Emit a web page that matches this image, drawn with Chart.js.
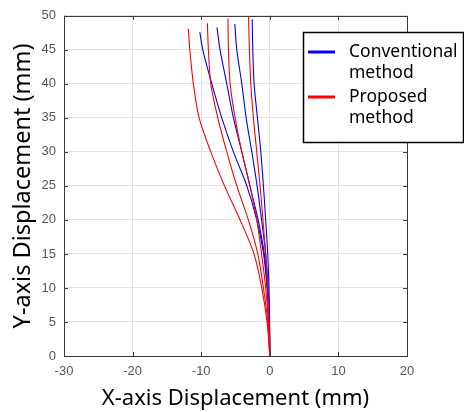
<!DOCTYPE html>
<html>
<head>
<meta charset="utf-8">
<script src="https://cdn.jsdelivr.net/npm/chart.js@4/dist/chart.umd.min.js"></script>
<style>
  html, body { margin: 0; padding: 0; background: #fff; }
</style>
</head>
<body>
<canvas id="grafico" width="464" height="412"></canvas>
<script>
// Níveis de Y (mm) onde cada curva foi lida; o último ponto de cada curva é o topo.
const yLevels = [0, 5, 10, 15, 20, 25, 30, 35, 40, 45];

// Deslocamento X (mm) em cada nível de Y — método convencional (azul)
const conv1X = [0, -0.1, -0.4, -0.9, -1.9, -3.35, -5.3, -7.0, -8.45, -9.77];
const conv2X = [0, -0.08, -0.35, -0.8, -1.7, -2.9, -4.08, -5.3, -6.27, -7.25];
const conv3X = [0, -0.05, -0.25, -0.6, -1.2, -1.85, -2.62, -3.45, -4.08, -4.81];
const conv4X = [0, -0.03, -0.12, -0.3, -0.6, -0.93, -1.31, -1.8, -2.29, -2.48];
const convTops = [[-10.2, 47.6], [-7.7, 48.3], [-5.1, 48.8], [-2.57, 49.5]];

// Método proposto (vermelho)
const prop1X = [0, -0.4, -1.17, -2.3, -4.33, -6.6, -8.6, -10.3, -11.14, -11.66];
const prop2X = [0, -0.3, -0.93, -1.75, -3.12, -4.81, -6.27, -7.58, -8.6, -8.95];
const prop3X = [0, -0.2, -0.6, -1.2, -1.9, -2.9, -4.08, -5.06, -5.78, -6.03];
const prop4X = [0, -0.1, -0.3, -0.6, -1.0, -1.42, -1.9, -2.39, -2.77, -2.97];
const propTops = [[-11.87, 48.1], [-9.1, 48.9], [-6.1, 49.6], [-3.1, 49.9]];

const xTicks = [-30, -20, -10, 0, 10, 20];
const yTicks = [0, 5, 10, 15, 20, 25, 30, 35, 40, 45, 50];

const legendLabels = [["Conventional", "method"], ["Proposed", "method"]];
const AZUL = "#0000ff";
const VERMELHO = "#ff0000";
const EIXO = "#3a3a3a";

function pontos(xs, topo) {
  const pts = xs.map((x, i) => ({ x: x, y: yLevels[i] }));
  pts.push({ x: topo[0], y: topo[1] });
  return pts;
}

function serie(xs, topo, cor) {
  return {
    data: pontos(xs, topo),
    borderColor: cor,
    borderWidth: 1.1,
    showLine: true,
    pointRadius: 0,
    tension: 0.3,
    fill: false,
  };
}

// Moldura + ticks internos (estilo MATLAB)
const molduraPlugin = {
  id: "moldura",
  afterDatasetsDraw(chart) {
    const { ctx, chartArea: a, scales } = chart;
    ctx.save();
    ctx.strokeStyle = EIXO;
    ctx.lineWidth = 1;
    ctx.strokeRect(Math.round(a.left) + 0.5, Math.round(a.top) + 0.5,
      Math.round(a.right - a.left), Math.round(a.bottom - a.top));
    const tl = 4;
    ctx.beginPath();
    xTicks.forEach((v) => {
      const px = Math.round(scales.x.getPixelForValue(v)) + 0.5;
      ctx.moveTo(px, a.bottom); ctx.lineTo(px, a.bottom - tl);
      ctx.moveTo(px, a.top); ctx.lineTo(px, a.top + tl);
    });
    yTicks.forEach((v) => {
      const py = Math.round(scales.y.getPixelForValue(v)) + 0.5;
      ctx.moveTo(a.left, py); ctx.lineTo(a.left + tl, py);
      ctx.moveTo(a.right, py); ctx.lineTo(a.right - tl, py);
    });
    ctx.stroke();
    ctx.restore();
  },
};

// Legenda desenhada à mão (caixa sobreposta ao gráfico, rótulos em duas linhas)
const legendaPlugin = {
  id: "legenda",
  afterDraw(chart) {
    const ctx = chart.ctx;
    const bx = 303, by = 32, bw = 160, bh = 110;
    ctx.save();
    ctx.fillStyle = "#ffffff";
    ctx.fillRect(bx, by, bw, bh);
    ctx.strokeStyle = "#000000";
    ctx.lineWidth = 1.5;
    ctx.strokeRect(bx + 0.5, by + 0.5, bw, bh);

    const cores = [AZUL, VERMELHO];
    const linhasY = [52, 97];
    ctx.font = '17.5px "Noto Sans"';
    ctx.textBaseline = "middle";
    ctx.textAlign = "left";
    legendLabels.forEach((linhas, i) => {
      const y = linhasY[i];
      ctx.strokeStyle = cores[i];
      ctx.lineWidth = 3;
      ctx.beginPath();
      ctx.moveTo(308, y);
      ctx.lineTo(335, y);
      ctx.stroke();
      ctx.fillStyle = "#000000";
      linhas.forEach((t, j) => ctx.fillText(t, 349, y + j * 21.5));
    });
    ctx.restore();
  },
};

const datasets = [
  serie(prop1X, propTops[0], VERMELHO),
  serie(prop2X, propTops[1], VERMELHO),
  serie(prop3X, propTops[2], VERMELHO),
  serie(prop4X, propTops[3], VERMELHO),
  serie(conv1X, convTops[0], AZUL),
  serie(conv2X, convTops[1], AZUL),
  serie(conv3X, convTops[2], AZUL),
  serie(conv4X, convTops[3], AZUL),
];

new Chart(document.getElementById("grafico"), {
  type: "scatter",
  data: { datasets },
  options: {
    responsive: false,
    animation: false,
    devicePixelRatio: 1,
    layout: { padding: { left: 0, top: 13, right: 57, bottom: 0 } },
    plugins: { legend: { display: false }, tooltip: { enabled: false } },
    scales: {
      x: {
        type: "linear",
        min: -30,
        max: 20,
        afterBuildTicks: (s) => { s.ticks = xTicks.map((v) => ({ value: v })); },
        afterFit: (s) => { s.height = 56; },
        ticks: {
          color: "#555555",
          font: { family: '"Liberation Sans", Arial', size: 13 },
          padding: 8,
          maxRotation: 0,
        },
        grid: { color: "#e3e3e3", drawTicks: false },
        border: { display: false },
        title: {
          display: true,
          text: "X-axis Displacement (mm)",
          color: "#000000",
          font: { family: '"Noto Sans"', size: 22 },
          padding: { top: 0, bottom: 0 },
        },
      },
      y: {
        type: "linear",
        min: 0,
        max: 50,
        afterBuildTicks: (s) => { s.ticks = yTicks.map((v) => ({ value: v })); },
        afterFit: (s) => { s.width = 64; },
        ticks: {
          color: "#555555",
          font: { family: '"Liberation Sans", Arial', size: 13 },
          padding: 8,
        },
        grid: { color: "#e3e3e3", drawTicks: false },
        border: { display: false },
        title: {
          display: true,
          text: "Y-axis Displacement (mm)",
          color: "#000000",
          font: { family: '"Noto Sans"', size: 23.5 },
          padding: { top: 9, bottom: 0 },
        },
      },
    },
  },
  plugins: [molduraPlugin, legendaPlugin],
});
</script>
</body>
</html>
